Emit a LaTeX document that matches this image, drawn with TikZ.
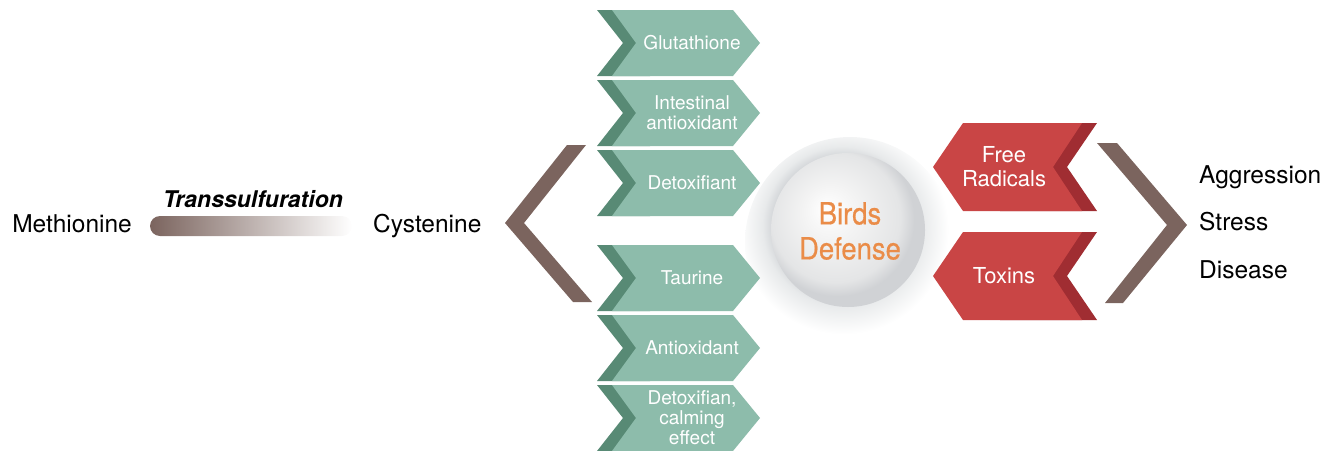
\documentclass[tikz,border=0pt]{standalone}
\usepackage{fontspec}
\setmainfont{TeX Gyre Heros}
\newfontfamily\condfont[FakeStretch=0.9,FakeBold=0.6]{TeX Gyre Heros}
\definecolor{chevlight}{RGB}{141,188,171}
\definecolor{chevdark}{RGB}{88,138,117}
\definecolor{redlight}{RGB}{201,69,69}
\definecolor{reddark}{RGB}{160,45,50}
\definecolor{bracket}{RGB}{123,100,94}
\definecolor{birdorange}{RGB}{234,140,72}
\definecolor{sphA}{RGB}{243,243,243}
\definecolor{sphB}{RGB}{228,229,230}
\definecolor{sphC}{RGB}{208,210,213}
\definecolor{haloA}{RGB}{200,203,207}
\definecolor{haloB}{RGB}{232,234,235}
\pgfdeclareradialshading{sphereshade}{\pgfpoint{-7bp}{7bp}}{color(0bp)=(white); color(9bp)=(sphA); color(21bp)=(sphB); color(25bp)=(sphC); color(50bp)=(sphC)}
\pgfdeclareradialshading{haloshade}{\pgfpoint{-3bp}{6bp}}{color(0bp)=(haloA); color(15bp)=(haloA); color(19bp)=(haloB); color(25bp)=(white); color(50bp)=(white)}
\begin{document}
\begin{tikzpicture}[x=1pt,y=-1pt]
    \tikzset{
      bigtext/.style={font=\fontsize{24.5}{28}\selectfont, inner sep=0pt},
      chevtext/.style={text=white, align=center, font=\fontsize{19}{20}\selectfont, inner sep=0pt},
      redtext/.style={text=white, align=center, font=\fontsize{22}{24}\selectfont, inner sep=0pt},
    }
    \useasboundingbox (0,0) rectangle (1335,450);
    % methionine -> cystenine
    \node[bigtext, anchor=base east] (meth) at (132,232) {Methionine};
    \node[bigtext, anchor=base west] (cys) at (373,232) {Cystenine};
    \node[bigtext, font=\fontsize{23}{26}\selectfont\bfseries\itshape, anchor=base] (trans) at (253,207) {Transsulfuration};
    \shade[left color=bracket, right color=white, rounded corners=10pt] ([xshift=18pt,yshift=16pt]meth.base east) rectangle ([xshift=-21pt,yshift=-4pt]cys.base west);
    \fill[bracket] (567,145) -- (586,145) -- (524,223) -- (592,302) -- (573,302) -- (505,223) -- cycle;
    \shade[shading=haloshade] (850,242) circle (105);
    \foreach \y/\nm/\txt in {10/glut/Glutathione, 80/intest/{Intestinal\\antioxidant}, 150/detox/Detoxifiant,
                             245/taur/Taurine, 315/antiox/Antioxidant, 385/calm/{Detoxifian,\\calming\\effect}} {
      \fill[chevdark] (597,\y) -- (650,\y) -- (650,\y+66) -- (597,\y+66) -- (623,\y+33) -- cycle;
      \fill[chevlight] (612,\y) -- (733,\y) -- (760,\y+33) -- (733,\y+66) -- (612,\y+66) -- (636,\y+33) -- cycle;
      \node[chevtext] (\nm) at (692,\y+33) {\txt};
    }
    \foreach \y/\nm/\txt in {123/free/{Free\\Radicals}, 232/tox/Toxins} {
      \fill[reddark] (1000,\y) -- (1097,\y) -- (1067,\y+44) -- (1097,\y+88) -- (1000,\y+88) -- cycle;
      \fill[redlight] (933,\y+44) -- (963,\y) -- (1082,\y) -- (1053,\y+44) -- (1082,\y+88) -- (963,\y+88) -- cycle;
      \node[redtext] (\nm) at (1004,\y+44) {\txt};
    }
    \shade[shading=sphereshade] (848,230) circle (77);
    \node[text=birdorange, align=center, font=\condfont\fontsize{30.5}{35}\selectfont, inner sep=0pt] (birds) at (850,231) {Birds\\Defense};
    \fill[bracket] (1097,143) -- (1117,143) -- (1187,225) -- (1123,303) -- (1105,303) -- (1167,225) -- cycle;
    \node[bigtext, anchor=base west] (aggr) at (1199,183) {Aggression};
    \node[bigtext, anchor=base west] (stress) at (1199,230) {Stress};
    \node[bigtext, anchor=base west] (dis) at (1199,278) {Disease};
\end{tikzpicture}
\end{document}
